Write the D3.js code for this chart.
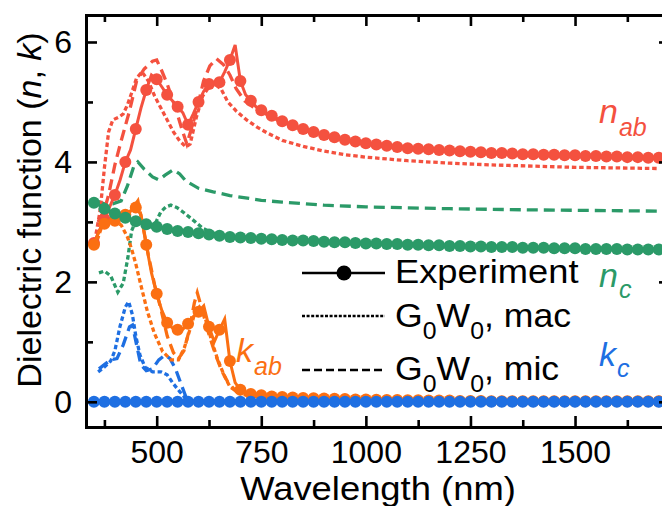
<!DOCTYPE html>
<html>
<head>
<meta charset="utf-8">
<script src="https://cdn.jsdelivr.net/npm/d3@7"></script>
<style>
  body { margin: 0; background: #fff; }
  text { font-family: "Liberation Sans", Arial, sans-serif; }
</style>
</head>
<body>
<svg id="chart" width="662" height="506"></svg>
<script>
// ---- Measured data (wavelength in nm) ----
const expWl = [350, 362.5, 375, 387.5, 400, 412.5, 425, 437.5, 450, 462.5, 475, 487.5, 500, 512.5, 525, 537.5,
  550, 562.5, 575, 587.5, 600, 612.5, 625, 637.5, 650, 662.5, 675, 687.5, 700, 712.5, 725, 737.5, 750,
  775, 800, 825, 850, 875, 900, 925, 950, 975, 1000, 1025, 1050, 1075, 1100, 1125, 1150, 1175, 1200,
  1225, 1250, 1275, 1300, 1325, 1350, 1375, 1400, 1425, 1450, 1475, 1500, 1525, 1550, 1575, 1600,
  1625, 1650, 1675, 1700];

const nAbExp = [2.65, 2.85, 3.05, 3.25, 3.45, 3.7, 4.0, 4.2, 4.55, 4.9, 5.2, 5.45, 5.38, 5.25, 5.12, 5.02,
  4.92, 4.82, 4.62, 4.8, 5.0, 5.18, 5.3, 5.32, 5.33, 5.5, 5.7, 5.95, 5.35, 5.12, 5.02, 4.92, 4.86,
  4.77, 4.68, 4.61, 4.55, 4.5, 4.45, 4.41, 4.37, 4.34, 4.31, 4.29, 4.27, 4.25, 4.23, 4.22, 4.21, 4.2, 4.19,
  4.18, 4.17, 4.16, 4.15, 4.15, 4.14, 4.13, 4.13, 4.12, 4.12, 4.11, 4.11, 4.1, 4.1, 4.09, 4.09,
  4.08, 4.08, 4.07, 4.07];

const kAbExp = [2.62, 2.85, 2.97, 3.0, 3.02, 3.08, 3.12, 3.18, 3.24, 3.12, 2.62, 2.15, 1.8, 1.52, 1.32, 1.23,
  1.2, 1.21, 1.3, 1.42, 1.5, 1.6, 1.25, 1.0, 1.2, 1.38, 0.68, 0.32, 0.2, 0.16, 0.13, 0.12, 0.11,
  0.09, 0.08, 0.07, 0.065, 0.06, 0.055, 0.05, 0.045, 0.04, 0.04, 0.035, 0.03, 0.03, 0.025, 0.025, 0.02, 0.02, 0.02,
  0.015, 0.015, 0.015, 0.01, 0.01, 0.01, 0.01, 0.01, 0.01, 0.01, 0.01, 0.01, 0.01, 0.01, 0.01, 0.01,
  0.01, 0.01, 0.01, 0.01];

const nCExp = [3.32, 3.28, 3.22, 3.18, 3.14, 3.1, 3.07, 3.04, 3.01, 2.98, 2.96, 2.94, 2.92, 2.9, 2.88, 2.87,
  2.85, 2.84, 2.83, 2.82, 2.81, 2.8, 2.79, 2.78, 2.77, 2.76, 2.75, 2.75, 2.74, 2.73, 2.73, 2.72, 2.72,
  2.71, 2.7, 2.69, 2.69, 2.68, 2.67, 2.66, 2.66, 2.65, 2.64, 2.64, 2.63, 2.63, 2.62, 2.62, 2.61, 2.61, 2.6,
  2.6, 2.59, 2.59, 2.58, 2.58, 2.58, 2.57, 2.57, 2.57, 2.56, 2.56, 2.56, 2.55, 2.55, 2.55, 2.55,
  2.54, 2.54, 2.54, 2.54];

const kCExp = [0, 0, 0, 0, 0, 0, 0, 0, 0, 0, 0, 0, 0, 0, 0, 0,
  0, 0, 0, 0, 0, 0, 0, 0, 0, 0, 0, 0, 0, 0, 0, 0, 0,
  0, 0, 0, 0, 0, 0, 0, 0, 0, 0, 0, 0, 0, 0, 0, 0, 0, 0,
  0, 0, 0, 0, 0, 0, 0, 0, 0, 0, 0, 0, 0, 0, 0, 0,
  0, 0, 0, 0];

// ---- G0W0, macroscopic ----
const nAbMacWl = [355, 365, 375, 385, 395, 410, 420, 430, 440, 452, 465, 480, 495, 510, 525, 540, 555, 570, 580,
  595, 610, 625, 640, 655, 670, 690, 715, 740, 765, 800, 850, 900, 950, 1000, 1100, 1200, 1300, 1400, 1500, 1600, 1700];
const nAbMac = [2.8, 3.2, 3.9, 4.5, 4.7, 4.75, 4.8, 4.95, 5.15, 5.4, 5.5, 5.35, 5.1, 4.9, 4.7, 4.5, 4.35, 4.25, 4.3,
  4.75, 5.1, 5.25, 5.3, 5.2, 5.0, 4.85, 4.7, 4.58, 4.48, 4.36, 4.26, 4.18, 4.12, 4.08, 4.02, 3.98, 3.95, 3.93, 3.91, 3.9, 3.89];

const kAbMacWl = [358, 370, 385, 400, 415, 430, 440, 450, 462, 478, 494, 514, 534, 552, 566, 580, 592, 602, 615,
  630, 645, 660, 675, 700, 750, 800, 900, 1000, 1200, 1400, 1700];
const kAbMac = [2.7, 2.95, 3.05, 3.0, 2.95, 2.75, 2.55, 2.3, 1.95, 1.5, 1.15, 0.84, 0.7, 0.7, 0.9, 1.22, 1.5, 1.58, 1.42,
  1.05, 0.72, 0.46, 0.25, 0.13, 0.07, 0.05, 0.03, 0.02, 0.01, 0.005, 0.0];

const nCMacWl = [362, 375, 390, 407, 420, 431, 440, 452, 465, 480, 495, 510, 522, 534, 548, 562, 587, 611, 640,
  660, 700, 800, 900, 1000, 1200, 1400, 1700];
const nCMac = [2.15, 2.18, 2.1, 1.83, 1.98, 2.4, 2.85, 3.05, 2.98, 2.9, 2.95, 3.17, 3.25, 3.28, 3.24, 3.17, 3.03, 2.89, 2.8,
  2.77, 2.74, 2.7, 2.67, 2.64, 2.6, 2.57, 2.54];

const kCMacWl = [360, 375, 390, 400, 412, 425, 433, 442, 450, 460, 472, 490, 510, 525, 540, 555, 570, 580, 700, 1000, 1700];
const kCMac = [0.5, 0.58, 0.68, 0.85, 1.25, 1.58, 1.67, 1.45, 1.1, 0.78, 0.58, 0.5, 0.5, 0.45, 0.3, 0.17, 0.05, 0, 0, 0, 0];

// ---- G0W0, microscopic ----
const nAbMicWl = [360, 375, 385, 400, 415, 435, 452, 470, 490, 500, 512, 525, 545, 560, 572, 585, 597, 612, 627, 643,
  660, 675, 690, 710, 730, 750, 800, 850, 900, 1000, 1100, 1200, 1300, 1400, 1500, 1600, 1700];
const nAbMic = [3.0, 3.2, 3.45, 3.95, 4.35, 4.85, 5.35, 5.55, 5.68, 5.7, 5.52, 5.3, 4.9, 4.55, 4.3, 4.6, 4.9, 5.35, 5.6, 5.72,
  5.62, 5.45, 5.22, 5.02, 4.92, 4.84, 4.66, 4.53, 4.43, 4.29, 4.21, 4.17, 4.14, 4.12, 4.1, 4.08, 4.06];

const kAbMicWl = [360, 380, 400, 420, 440, 455, 468, 480, 495, 510, 525, 540, 552, 565, 578, 590, 597, 610, 625, 640,
  655, 670, 690, 720, 800, 1000, 1200, 1700];
const kAbMic = [3.0, 3.2, 3.1, 3.05, 3.2, 3.35, 2.9, 2.45, 1.95, 1.55, 1.1, 0.82, 0.72, 0.85, 1.2, 1.65, 1.82, 1.5, 1.12, 0.8,
  0.52, 0.33, 0.17, 0.1, 0.05, 0.02, 0.01, 0.0];

const nCMicWl = [355, 375, 395, 415, 430, 445, 455, 470, 490, 505, 520, 540, 555, 570, 600, 635, 675, 750, 800, 900,
  1000, 1200, 1400, 1700];
const nCMic = [3.35, 3.3, 3.3, 3.35, 3.6, 3.92, 4.0, 3.88, 3.75, 3.7, 3.78, 3.87, 3.8, 3.68, 3.56, 3.5, 3.44, 3.36, 3.33, 3.28,
  3.25, 3.22, 3.2, 3.18];

const kCMicWl = [362, 375, 390, 405, 420, 435, 442, 452, 462, 475, 490, 505, 520, 532, 545, 558, 570, 585, 700, 1000, 1700];
const kCMic = [0.55, 0.62, 0.7, 0.72, 0.95, 1.25, 1.28, 0.95, 0.62, 0.52, 0.55, 0.7, 0.78, 0.72, 0.55, 0.3, 0.08, 0, 0, 0, 0];

// ---- Axis ticks ----
const xMajorTicks = [500, 750, 1000, 1250, 1500];
const xMinorTicks = [375, 625, 875, 1125, 1375, 1625];
const yMajorTicks = [0, 2, 4, 6];
const yMinorTicks = [1, 3, 5];

const colors = { nab: "#f4513f", kab: "#fb6f12", nc: "#2b9a68", kc: "#1e6fe2" };

// ---- Layout ----
const svg = d3.select("#chart");
const plotLeft = 86, plotRight = 670, plotTop = 15, plotBottom = 427;

const x = d3.scaleLinear().domain([331, 1727]).range([plotLeft, plotRight]);
const y = d3.scaleLinear().domain([-0.42, 6.45]).range([plotBottom, plotTop]);

svg.append("defs").append("clipPath").attr("id", "plotClip")
  .append("rect").attr("x", plotLeft).attr("y", plotTop)
  .attr("width", plotRight - plotLeft).attr("height", plotBottom - plotTop);

const plot = svg.append("g").attr("clip-path", "url(#plotClip)");
const line = d3.line().x(d => x(d[0])).y(d => y(d[1]));

const dotted = "4.5,2.8";
const dashed = "11,6";

function drawTheory(wl, vals, color, dash) {
  plot.append("path")
    .datum(d3.zip(wl, vals))
    .attr("fill", "none")
    .attr("stroke", color)
    .attr("stroke-width", 3.3)
    .attr("stroke-dasharray", dash)
    .attr("d", line);
}

drawTheory(kCMacWl, kCMac, colors.kc, dotted);
drawTheory(kCMicWl, kCMic, colors.kc, dashed);
drawTheory(nCMacWl, nCMac, colors.nc, dotted);
drawTheory(nCMicWl, nCMic, colors.nc, dashed);
drawTheory(kAbMacWl, kAbMac, colors.kab, dotted);
drawTheory(kAbMicWl, kAbMic, colors.kab, dashed);
drawTheory(nAbMacWl, nAbMac, colors.nab, dotted);
drawTheory(nAbMicWl, nAbMic, colors.nab, dashed);

function drawExperiment(vals, color) {
  const pts = d3.zip(expWl, vals);
  plot.append("path")
    .datum(pts)
    .attr("fill", "none")
    .attr("stroke", color)
    .attr("stroke-width", 3)
    .attr("d", line);
  // symbols every 25 nm
  plot.append("g").selectAll("circle")
    .data(pts.filter(d => d[0] % 25 === 0))
    .join("circle")
    .attr("cx", d => x(d[0]))
    .attr("cy", d => y(d[1]))
    .attr("r", 6)
    .attr("fill", color);
}

drawExperiment(nAbExp, colors.nab);
drawExperiment(kAbExp, colors.kab);
drawExperiment(nCExp, colors.nc);
drawExperiment(kCExp, colors.kc);

// ---- Frame and ticks ----
function styleAxis(g) {
  g.select(".domain").attr("stroke", "#000").attr("stroke-width", 3).attr("stroke-linecap", "square");
  g.selectAll(".tick line").attr("stroke", "#000").attr("stroke-width", 2.6);
}

const axes = [
  { make: d3.axisBottom, tr: `translate(0,${plotBottom})`, scale: x, major: xMajorTicks, minor: xMinorTicks, labels: true, pad: 13 },
  { make: d3.axisTop, tr: `translate(0,${plotTop})`, scale: x, major: xMajorTicks, minor: xMinorTicks, labels: false, pad: 3 },
  { make: d3.axisLeft, tr: `translate(${plotLeft},0)`, scale: y, major: yMajorTicks, minor: yMinorTicks, labels: true, pad: 14 },
  { make: d3.axisRight, tr: `translate(${plotRight},0)`, scale: y, major: yMajorTicks, minor: yMinorTicks, labels: false, pad: 3 }
];

axes.forEach(a => {
  const gMinor = svg.append("g").attr("transform", a.tr)
    .call(a.make(a.scale).tickValues(a.minor).tickSizeInner(-7).tickSizeOuter(0).tickFormat(""));
  styleAxis(gMinor);
  const gMajor = svg.append("g").attr("transform", a.tr)
    .call(a.make(a.scale).tickValues(a.major).tickSizeInner(-11).tickSizeOuter(0)
      .tickPadding(a.pad)
      .tickFormat(a.labels ? d3.format("d") : () => ""));
  styleAxis(gMajor);
  gMajor.attr("font-family", null).attr("font-size", 32);
  gMajor.selectAll(".tick text").attr("fill", "#000");
});

// ---- Axis titles ----
svg.append("text")
  .attr("transform", "translate(378,500) scale(1.07,1)")
  .attr("text-anchor", "middle")
  .attr("font-size", 34)
  .text("Wavelength (nm)");

const yTitle = svg.append("text")
  .attr("transform", "translate(41,210) rotate(-90)")
  .attr("text-anchor", "middle")
  .attr("font-size", 34);
yTitle.append("tspan").text("Dielectric function (");
yTitle.append("tspan").attr("font-style", "italic").text("n");
yTitle.append("tspan").text(", ");
yTitle.append("tspan").attr("font-style", "italic").text("k");
yTitle.append("tspan").text(")");

// ---- Curve labels ----
function curveLabel(px, py, main, sub, color, subDy) {
  const t = svg.append("text").attr("x", px).attr("y", py)
    .attr("fill", color).attr("font-style", "italic").attr("font-size", 34);
  t.append("tspan").text(main);
  t.append("tspan").attr("font-size", 25).attr("dy", subDy).attr("dx", 1).text(sub);
}
curveLabel(599, 123, "n", "ab", colors.nab, 13);
curveLabel(599, 287, "n", "c", colors.nc, 11);
curveLabel(599, 366, "k", "c", colors.kc, 11);
curveLabel(236, 362, "k", "ab", colors.kab, 13);

// ---- Legend ----
const legend = svg.append("g");
const legendRows = [
  { y: 273, dash: null, marker: true },
  { y: 316, dash: "3,1.6", marker: false },
  { y: 370, dash: "8,4", marker: false }
];
legendRows.forEach(r => {
  legend.append("line")
    .attr("x1", 302).attr("x2", 385).attr("y1", r.y).attr("y2", r.y)
    .attr("stroke", "#000").attr("stroke-width", 2.6)
    .attr("stroke-dasharray", r.dash);
  if (r.marker) {
    legend.append("circle").attr("cx", 344).attr("cy", r.y).attr("r", 7.5).attr("fill", "#000");
  }
});

legend.append("text").attr("transform", "translate(395,283) scale(1.1,1)")
  .attr("font-size", 33).text("Experiment");

function gwLabel(py, suffix) {
  const t = legend.append("text").attr("transform", `translate(395,${py}) scale(1.08,1)`).attr("font-size", 33);
  t.append("tspan").text("G");
  t.append("tspan").attr("font-size", 23).attr("dy", 12).text("0");
  t.append("tspan").attr("dy", -12).text("W");
  t.append("tspan").attr("font-size", 23).attr("dy", 12).text("0");
  t.append("tspan").attr("dy", -12).text(", " + suffix);
}
gwLabel(327, "mac");
gwLabel(380, "mic");
</script>
</body>
</html>
